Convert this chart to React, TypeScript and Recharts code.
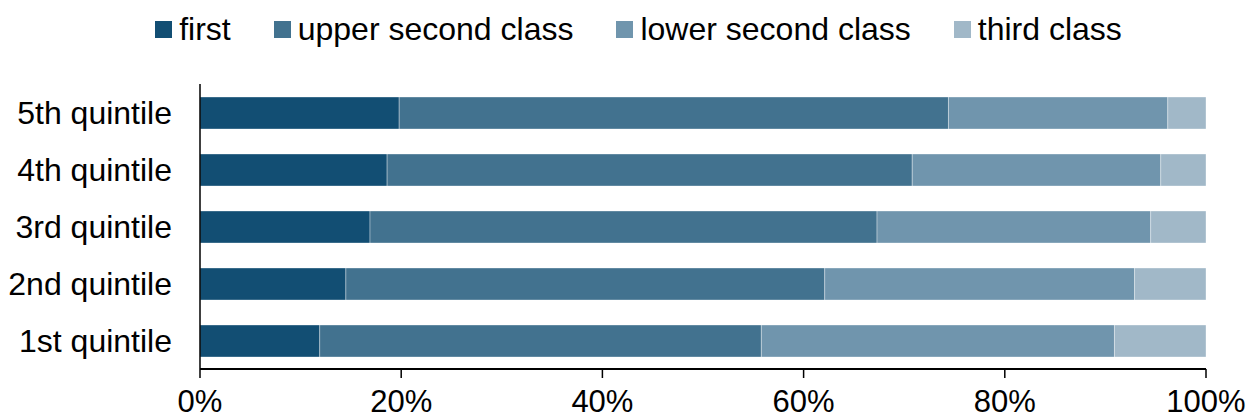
import React from "react";
import { BarChart, Bar, XAxis, YAxis, Legend } from "recharts";

const quintiles = ["5th quintile", "4th quintile", "3rd quintile", "2nd quintile", "1st quintile"];
const first = [19.8, 18.6, 16.9, 14.5, 11.9];
const upperSecond = [54.6, 52.2, 50.4, 47.6, 43.9];
const lowerSecond = [21.8, 24.7, 27.2, 30.8, 35.1];
const thirdClass = [3.8, 4.5, 5.5, 7.1, 9.1];
const xTicks = [0, 20, 40, 60, 80, 100];

const series = [
  { key: "first", name: "first", color: "#124e73" },
  { key: "upper", name: "upper second class", color: "#42728f" },
  { key: "lower", name: "lower second class", color: "#7095ad" },
  { key: "third", name: "third class", color: "#a1b8c8" },
];

const data = quintiles.map((q, i) => ({
  quintile: q,
  first: first[i],
  upper: upperSecond[i],
  lower: lowerSecond[i],
  third: thirdClass[i],
}));

const FONT = "'Liberation Sans', Arial, sans-serif";

function ChartLegend() {
  return (
    <div
      style={{
        height: 59,
        width: 1248,
        display: "flex",
        justifyContent: "center",
        alignItems: "center",
        paddingLeft: 29,
        boxSizing: "border-box",
        fontFamily: FONT,
        fontSize: 32,
        color: "#000",
        whiteSpace: "nowrap",
      }}
    >
      {series.map((s, i) => (
        <div
          key={s.key}
          style={{ display: "flex", alignItems: "center", marginLeft: i === 0 ? 0 : 43 }}
        >
          <span
            style={{ width: 17, height: 17, background: s.color, display: "inline-block", marginRight: 7 }}
          />
          <span>{s.name}</span>
        </div>
      ))}
    </div>
  );
}

export default function App() {
  return (
    <div style={{ position: "absolute", left: 0, top: 0, background: "#fff" }}>
      <BarChart
        width={1248}
        height={419}
        data={data}
        layout="vertical"
        barSize={32}
        margin={{ top: 25, right: 42, left: 0, bottom: 0 }}
        style={{ fontFamily: FONT }}
      >
        <Legend
          verticalAlign="top"
          align="left"
          wrapperStyle={{ top: 0, left: 0 }}
          content={() => <ChartLegend />}
        />
        <XAxis
          type="number"
          domain={[0, 100]}
          ticks={xTicks}
          tickFormatter={(v) => `${v}%`}
          height={50}
          tickSize={9}
          tickMargin={12}
          axisLine={{ stroke: "#000", strokeWidth: 2 }}
          tickLine={{ stroke: "#000", strokeWidth: 1.5 }}
          tick={{ fontSize: 31, fill: "#000" }}
          interval={0}
        />
        <YAxis
          type="category"
          dataKey="quintile"
          width={200}
          tickSize={0}
          tickMargin={28}
          tickLine={false}
          axisLine={{ stroke: "#000", strokeWidth: 1.5 }}
          tick={{ fontSize: 32, fill: "#000" }}
        />
        {series.map((s) => (
          <Bar
            key={s.key}
            dataKey={s.key}
            name={s.name}
            stackId="a"
            fill={s.color}
            stroke="rgba(255,255,255,0.35)"
            strokeWidth={1}
            isAnimationActive={false}
          />
        ))}
      </BarChart>
    </div>
  );
}
